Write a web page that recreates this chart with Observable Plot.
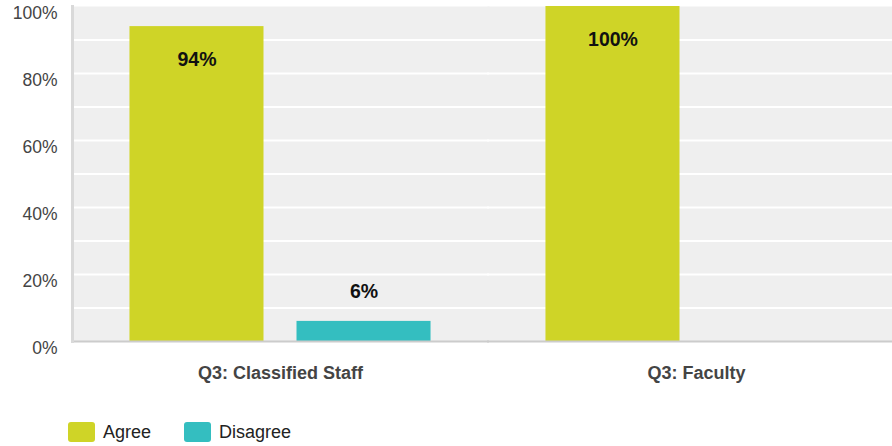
<!DOCTYPE html>
<html>
<head>
<meta charset="utf-8">
<script src="https://cdn.jsdelivr.net/npm/d3@7"></script>
<script src="https://cdn.jsdelivr.net/npm/@observablehq/plot@0.6"></script>
<style>
  html, body { margin: 0; padding: 0; background: #fff; overflow: hidden; }
  body { width: 892px; height: 446px; font-family: "Liberation Sans", Arial, sans-serif; }
  .legend { display: flex; align-items: center; padding-left: 68px; margin-top: 10px; height: 20px; }
  .item { display: flex; align-items: center; margin-right: 33px; font-size: 18px; color: #222; }
  .sw { width: 27px; height: 20px; border-radius: 3px; margin-right: 8px; }
</style>
</head>
<body>
<div id="chart"></div>
<script>
const groups = ["Q3: Classified Staff", "Q3: Faculty"];
const responses = ["Agree", "Disagree"];
const agreeValues = [94, 100];
const disagreeValues = [6, 0];
const colors = ["#cfd427", "#34bec0"];
const yTickValues = [0, 20, 40, 60, 80, 100];
const gridValues = [10, 20, 30, 40, 50, 60, 70, 80, 90];

const data = [];
groups.forEach((g, i) => {
  data.push({group: g, response: "Agree", value: agreeValues[i]});
  data.push({group: g, response: "Disagree", value: disagreeValues[i]});
});

const chart = Plot.plot({
  width: 892,
  height: 412,
  marginLeft: 72,
  marginRight: -12,
  marginTop: 6,
  marginBottom: 71,
  style: {fontFamily: "'Liberation Sans', Arial, sans-serif", overflow: "hidden", background: "white"},
  fx: {domain: groups, padding: 0},
  x: {domain: responses, paddingInner: 0.1976, paddingOuter: 0.344, round: false},
  y: {domain: [0, 100]},
  color: {domain: responses, range: colors},
  marks: [
    Plot.frame({fill: "#efefef", stroke: "none", insetLeft: -1, insetRight: -1}),
    Plot.gridY(gridValues, {stroke: "white", strokeOpacity: 1, strokeWidth: 2, insetLeft: -1, insetRight: -1}),
    Plot.barY(data.filter(d => d.value > 0), {fx: "group", x: "response", y: "value", fill: "response"}),
    Plot.ruleY([0], {stroke: "#cccccc", strokeWidth: 2, insetLeft: -1, insetRight: -1}),
    Plot.frame({anchor: "left", stroke: "#d9d9d9", strokeWidth: 3, facetAnchor: "left"}),
    Plot.text(data.filter(d => d.value >= 15), {fx: "group", x: "response", y: "value", text: d => d.value + "%", dy: 33, fontSize: 19.5, fontWeight: "bold", fill: "#111"}),
    Plot.text(data.filter(d => d.value > 0 && d.value < 15), {fx: "group", x: "response", y: "value", text: d => d.value + "%", dy: -30, fontSize: 19.5, fontWeight: "bold", fill: "#111"}),
    Plot.axisY(yTickValues, {tickFormat: d => d + "%", tickSize: 0, tickPadding: 15, dy: 7, fontSize: 17.5, fill: "#444", label: null}),
    Plot.axisFx({anchor: "bottom", tickSize: 0, tickPadding: 25, fontSize: 18, fontWeight: "bold", fill: "#444", label: null}),
    Plot.axisX({ticks: [], label: null})
  ]
});
document.getElementById("chart").appendChild(chart);

const legend = document.createElement("div");
legend.className = "legend";
responses.forEach((r, i) => {
  const item = document.createElement("div");
  item.className = "item";
  const sw = document.createElement("span");
  sw.className = "sw";
  sw.style.background = colors[i];
  const t = document.createElement("span");
  t.textContent = r;
  item.appendChild(sw);
  item.appendChild(t);
  legend.appendChild(item);
});
document.body.appendChild(legend);
</script>
</body>
</html>
